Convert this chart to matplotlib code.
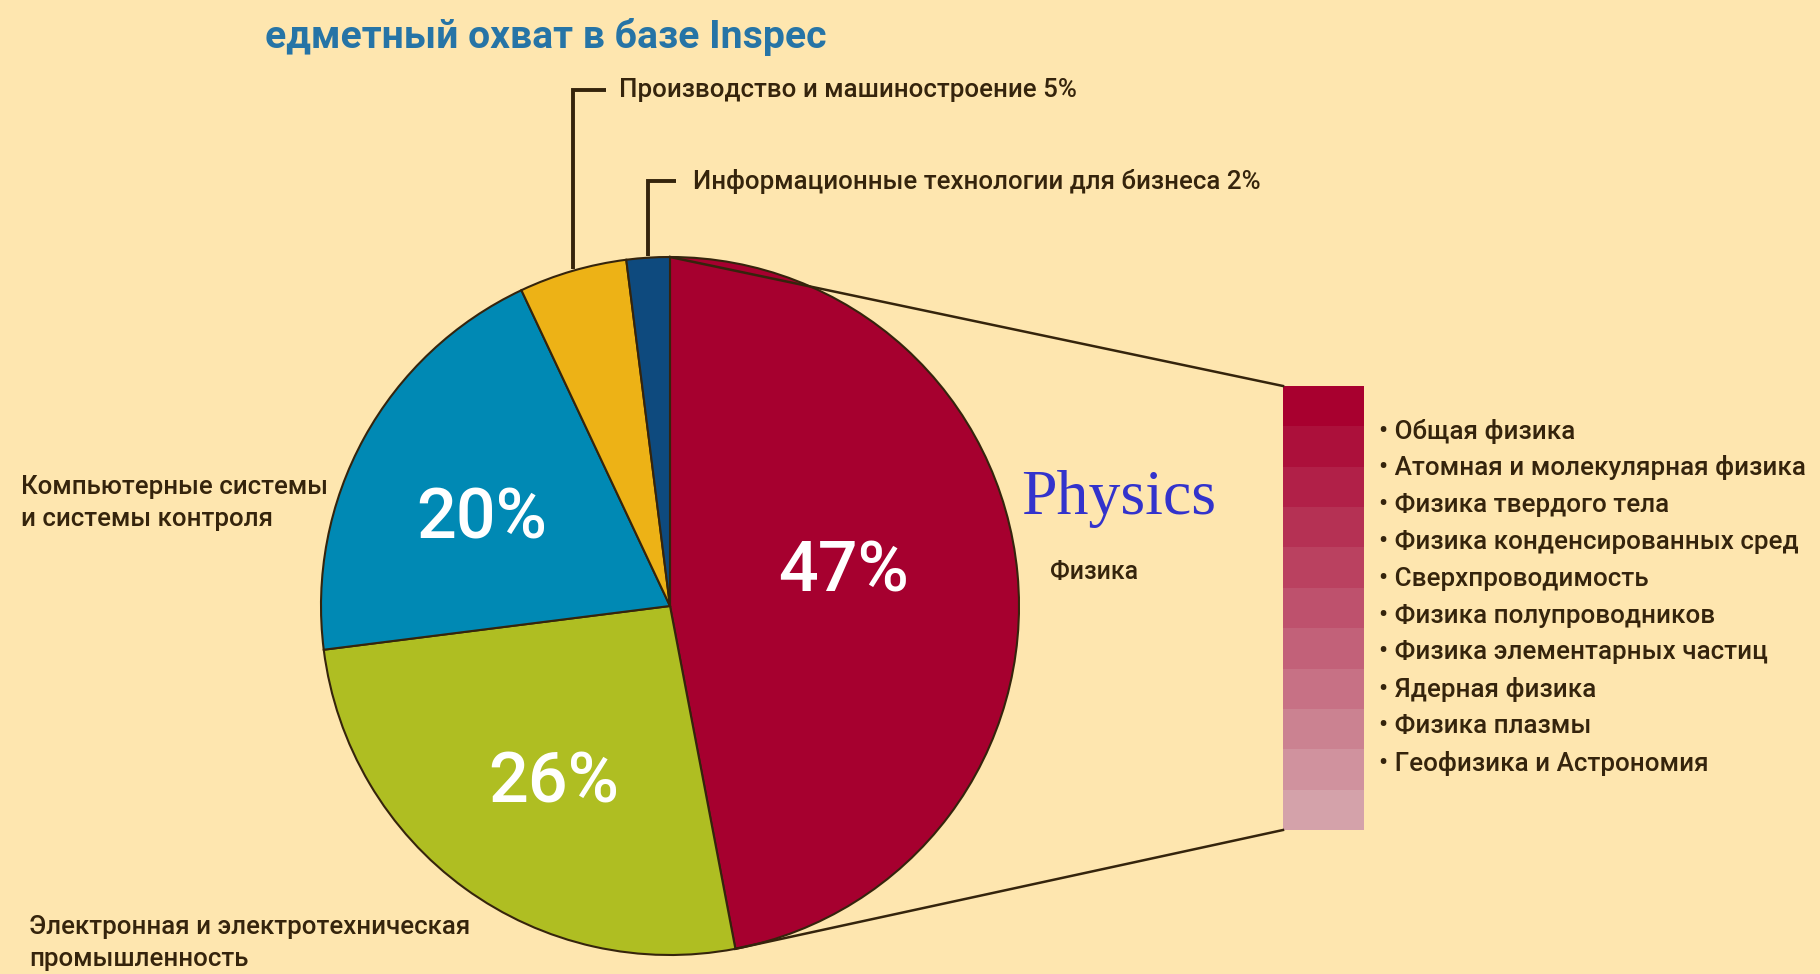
import numpy as np
import matplotlib
matplotlib.use("Agg")
import matplotlib.pyplot as plt
from matplotlib.patches import Rectangle

# ---- data ----
categories = ["Физика", "Электронная и электротехническая\nпромышленность",
              "Компьютерные системы\nи системы контроля",
              "Производство и машиностроение", "Информационные технологии для бизнеса"]
shares = [47, 26, 20, 5, 2]
pie_colors = ["#A6002F", "#AFBE22", "#0089B4", "#EDB216", "#0E4A7E"]
physics_subfields = ["Общая физика", "Атомная и молекулярная физика", "Физика твердого тела",
                     "Физика конденсированных сред", "Сверхпроводимость", "Физика полупроводников",
                     "Физика элементарных частиц", "Ядерная физика", "Физика плазмы",
                     "Геофизика и Астрономия"]
title = "едметный охват в базе Inspec"

W, H = 1820, 974
BG = "#FEE6AF"
TXT = "#35240C"
NARROW = ["Roboto", "DejaVu Sans"]
WT = "medium"

fig = plt.figure(figsize=(W / 100, H / 100), dpi=100, facecolor=BG)
ax = fig.add_axes([0, 0, 1, 1])
ax.set_facecolor(BG)
renderer = fig.canvas.get_renderer()

def Y(y):  # image y -> data y
    return H - y

def fit_size(sample, target_px, weight=WT, family=NARROW, base=20):
    t = fig.text(0, 0, sample, fontsize=base, fontweight=weight, family=family)
    w = t.get_window_extent(renderer=renderer).width
    t.remove()
    return base * target_px / w

cx, cy, r = 670, 606, 349
wedges, _ = ax.pie(shares, colors=pie_colors, startangle=90, counterclock=False,
                   center=(cx, Y(cy)), radius=r,
                   wedgeprops=dict(edgecolor=TXT, linewidth=1.5))
ax.set_xlim(0, W)
ax.set_ylim(0, H)
ax.set_aspect("equal")
ax.axis("off")

def mid(i):
    w = wedges[i]
    return np.deg2rad((w.theta1 + w.theta2) / 2)

# font sizes fitted to the reference text widths
fs_lab = fit_size("Производство и машиностроение 5%", 458)
fs_list = fit_size("• Атомная и молекулярная физика", 426)
fs_title = fit_size(title, 559, weight="bold")
fs_small = fit_size("Физика", 88)
fs_pct = fit_size("47%", 131, weight="medium", family=["Roboto", "DejaVu Sans"])

# percentage labels inside
pct_pos = {0: (844, 572), 1: (554, 783), 2: (482, 519)}
for i, (px, py) in pct_pos.items():
    ax.text(px, Y(py), f"{shares[i]}%", color="white", fontsize=fs_pct, fontweight="medium",
            family=["Roboto", "DejaVu Sans"], ha="center", va="center")

# leader lines for small slices
lead = {3: (90, 606, 619), 4: (181, 676, 693)}
for i, (ly, lx_end, tx) in lead.items():
    a = mid(i)
    x0 = cx + r * np.cos(a)
    y0 = cy - r * np.sin(a)
    ax.plot([x0, x0, lx_end], [Y(y0 - 2), Y(ly), Y(ly)], color=TXT, lw=2.8,
            solid_capstyle="butt", solid_joinstyle="miter")
    ax.text(tx, Y(ly), f"{categories[i]} {shares[i]}%", color=TXT, fontsize=fs_lab,
            fontweight=WT, family=NARROW, ha="left", va="center")

# other labels
ax.text(21, Y(503), categories[2], color=TXT, fontsize=fs_lab, fontweight=WT, family=NARROW,
        ha="left", va="center", linespacing=1.45)
ax.text(29, Y(943), categories[1], color=TXT, fontsize=fs_lab, fontweight=WT, family=NARROW,
        ha="left", va="center", linespacing=1.45)
ax.text(1050, Y(572), categories[0], color=TXT, fontsize=fs_small, fontweight=WT,
        family=NARROW, ha="left", va="center")
ax.text(1021, Y(499), "Physics", color="#3333CC", fontsize=46,
        family=["Liberation Serif", "DejaVu Serif"], ha="left", va="center")

# title
ax.text(265, Y(37), title, color="#2674A6", fontsize=fs_title, fontweight="bold",
        family=NARROW, ha="left", va="center")

# breakout bar
bx0, bx1, by0, by1 = 1283, 1364, 386, 830
nb = 11
c_top = np.array([168, 0, 47]) / 255
c_bot = np.array([212, 162, 170]) / 255
bh = (by1 - by0) / nb
for k in range(nb):
    t = k / (nb - 1)
    col = c_top * (1 - t) + c_bot * t
    ax.add_patch(Rectangle((bx0, Y(by0 + (k + 1) * bh)), bx1 - bx0, bh,
                           facecolor=col, edgecolor="none"))

# connector lines from the physics wedge to the bar
a_top = np.deg2rad(wedges[0].theta2)
a_bot = np.deg2rad(wedges[0].theta1)
ax.plot([cx + r * np.cos(a_top), bx0], [Y(cy) + r * np.sin(a_top), Y(by0)], color=TXT, lw=1.8)
ax.plot([cx + r * np.cos(a_bot), bx0], [Y(cy) + r * np.sin(a_bot), Y(by1)], color=TXT, lw=1.8)

# sub-field list
y_first, dy = 431, 36.9
for k, name in enumerate(physics_subfields):
    ax.text(1379, Y(y_first + k * dy), "• " + name, color=TXT, fontsize=fs_list,
            fontweight=WT, family=NARROW, ha="left", va="center")

fig.savefig("out.png", dpi=100, facecolor=BG)
